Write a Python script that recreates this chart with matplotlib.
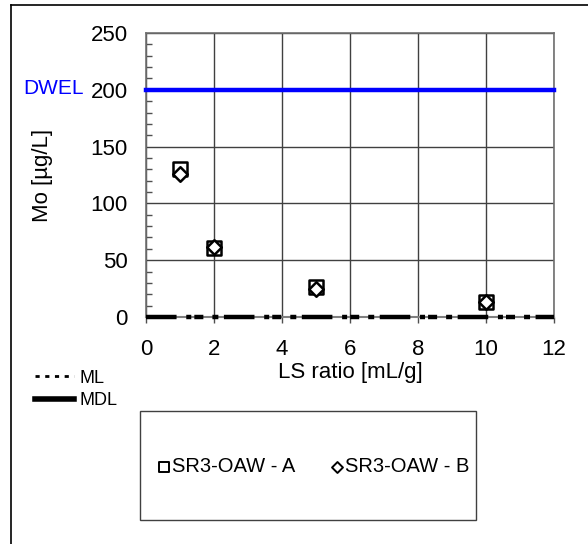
"""Mo leaching vs LS ratio, SR3-OAW A/B replicates."""

import matplotlib

matplotlib.use("Agg")
import matplotlib.pyplot as plt
from matplotlib.lines import Line2D
from matplotlib.patches import Rectangle

plt.rcParams["font.family"] = ["Liberation Sans", "DejaVu Sans"]
plt.rcParams["lines.scale_dashes"] = False

# data
ls_ratio = [1, 2, 5, 10]
mo_a = [130, 61, 26, 13]
mo_b = [126, 62, 25, 13]
dwel = 200
ml = 0
mdl = 0
x_lim = [0, 12]
y_lim = [0, 250]
x_ticks = [0, 2, 4, 6, 8, 10, 12]
y_ticks = [0, 50, 100, 150, 200, 250]
labels = ["SR3-OAW - A", "SR3-OAW - B"]

W, H = 588, 544
fig = plt.figure(figsize=(W / 100, H / 100), dpi=100)

# outer chart frame (only top and left edges visible)
fig.add_artist(Line2D([11 / W, 1.0], [1 - 5 / H, 1 - 5 / H], color="black", lw=1.2))
fig.add_artist(Line2D([11 / W, 11 / W], [0.0, 1 - 5 / H], color="black", lw=1.2))

ax = fig.add_axes([146 / W, 1 - 317 / H, (554 - 146) / W, (317 - 33) / H])

ax.set_xlim(x_lim)
ax.set_ylim(y_lim)
ax.set_xticks(x_ticks)
ax.set_yticks(y_ticks)
ax.set_yticks(range(0, 251, 10), minor=True)
ax.grid(True, which="major", color="#404040", lw=1.0)
ax.set_axisbelow(True)
for s in ax.spines.values():
    s.set_color("#707070")
    s.set_linewidth(1.2)

ax.tick_params(axis="x", direction="out", length=4, width=1, color="#505050",
               labelsize=16, pad=12)
ax.tick_params(axis="y", which="major", direction="in", length=0, labelsize=16, pad=13)
ax.tick_params(axis="y", which="minor", direction="in", length=4, width=1, color="#505050")

# limit lines
ax.axhline(dwel, color="#0000ff", lw=3.2, clip_on=False, zorder=3)
ax.plot(x_lim, [mdl, mdl], color="black", lw=3.2, solid_capstyle="butt",
        linestyle=(0, (22, 7, 3.6, 2.2, 6.5, 6.5, 4.3, 4)), zorder=4, clip_on=False)
ax.plot(x_lim, [ml, ml], color="#808080", lw=1.5, zorder=3, clip_on=False)

ax.scatter(ls_ratio, mo_a, marker="s", s=110, facecolor="white", edgecolor="black",
           linewidth=1.8, zorder=5, label=labels[0])
ax.scatter(ls_ratio, mo_b, marker="D", s=55, facecolor="white", edgecolor="black",
           linewidth=1.8, zorder=6, label=labels[1])

ax.set_xlabel("LS ratio [mL/g]", fontsize=16, labelpad=1)
ax.set_ylabel("Mo [µg/L]", fontsize=16, labelpad=27)
fig.text(23 / W, 1 - 89 / H, "DWEL", color="#0000ff", fontsize=15, va="center", ha="left")

# ML / MDL key
ml_h = Line2D([], [], color="black", lw=2, linestyle=(0, (3, 4)))
mdl_h = Line2D([], [], color="black", lw=4)
fig.legend([ml_h, mdl_h], ["ML", "MDL"], loc="upper left", bbox_to_anchor=(22 / W, 1 - 357 / H),
           frameon=False, fontsize=13, handlelength=2.2, handletextpad=0.3, labelspacing=0.3,
           borderpad=0.2)

# series key box
fig.add_artist(Rectangle((140 / W, 1 - 520 / H), (476 - 140) / W, (520 - 411) / H,
                         transform=fig.transFigure, facecolor="none", edgecolor="#404040", lw=1.0))
leg = fig.legend(loc="center", bbox_to_anchor=(314 / W, 1 - 467 / H), ncol=2,
                 frameon=False, fontsize=14.5, handlelength=0.5, handletextpad=0.15,
                 columnspacing=1.8, markerscale=0.75)
for h in leg.legend_handles:
    h.set_linewidth(1.4)

fig.savefig("out.png", dpi=100)
